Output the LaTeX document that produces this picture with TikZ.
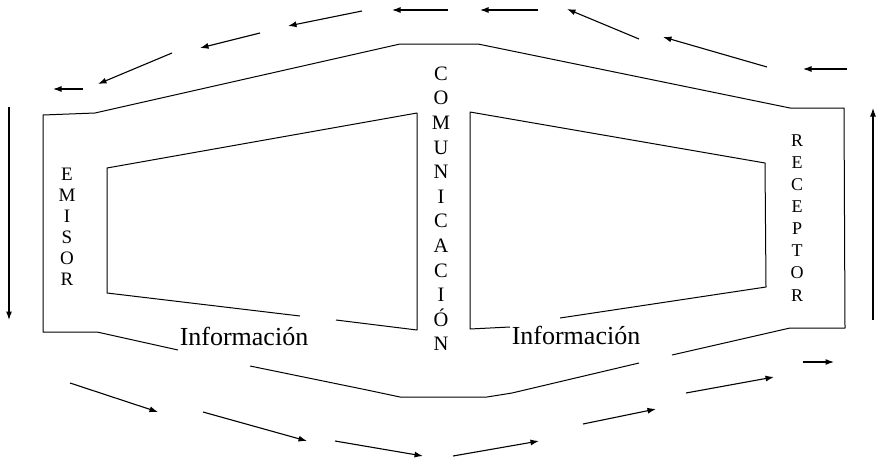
\documentclass[tikz,border=0pt]{standalone}
\usepackage{fontspec}
\setmainfont{Liberation Serif}
\usetikzlibrary{arrows.meta}
\begin{document}
\begin{tikzpicture}[x=1pt,y=-1pt,
  shape line/.style={line width=1pt, line join=round},
  flow/.style={line width=1.1pt, -{Latex[length=8.5pt,width=6pt]}},
  letter/.style={inner sep=0pt, text height=0.66em, text depth=0pt, anchor=center},
  infolabel/.style={inner sep=0pt, anchor=base, font=\fontsize{26}{30}\selectfont}]
\useasboundingbox (0,0) rectangle (880,466);
% outer shape
\draw[shape line] (178,350) -- (97,332) -- (43,332) -- (43,115) -- (95,113) -- (400,44) -- (478,44) -- (790,108) -- (844,108) -- (845,328) -- (790,328) -- (672,355);
\draw[shape line] (639,363) -- (512,393) -- (487,397) -- (400,397) -- (367,390) -- (250,366);
% inner left quad
\draw[shape line] (336,320) -- (417,330) -- (417,113) -- (107,168) -- (107,293) -- (300,316);
% inner right quad
\draw[shape line] (560,318) -- (766,287) -- (765,163) -- (470,112) -- (470,329) -- (510,327);
% labels
\node[infolabel] (info1) at (244,345) {Información};
\node[infolabel] (info2) at (576,344) {Información};
\foreach \l [count=\i from 0] in {E,M,I,S,O,R}
  \node[letter, font=\fontsize{19}{22}\selectfont] (em\i) at (67,177+21*\i) {\l};
\foreach \l [count=\i from 0] in {C,O,M,U,N,I,C,A,C,I,Ó,N}
  \node[letter, font=\fontsize{20.5}{24}\selectfont] (co\i) at (441,77+24.6*\i) {\l};
\foreach \l [count=\i from 0] in {R,E,C,E,P,T,O,R}
  \node[letter, font=\fontsize{18}{21}\selectfont] (re\i) at (797,143+22.1*\i) {\l};
% top arrows
\draw[flow] (83,89) -- (53,89);
\draw[flow] (172,53) -- (98,84);
\draw[flow] (260,33) -- (200,48);
\draw[flow] (362,11) -- (288,26);
\draw[flow] (448,10) -- (392,10);
\draw[flow] (538,10) -- (480,10);
\draw[flow] (639,39) -- (567,9);
\draw[flow] (767,67) -- (663,37);
\draw[flow] (847,69) -- (803,69);
% side arrows
\draw[flow] (873,320) -- (873,108);
\draw[flow] (9,107) -- (9,320);
% bottom arrows
\draw[flow] (70,383) -- (158,412);
\draw[flow] (203,412) -- (307,441);
\draw[flow] (335,441) -- (423,456);
\draw[flow] (453,456) -- (539,441);
\draw[flow] (583,424) -- (656,409);
\draw[flow] (686,393) -- (774,377);
\draw[flow] (803,362) -- (834,362);
\end{tikzpicture}
\end{document}
